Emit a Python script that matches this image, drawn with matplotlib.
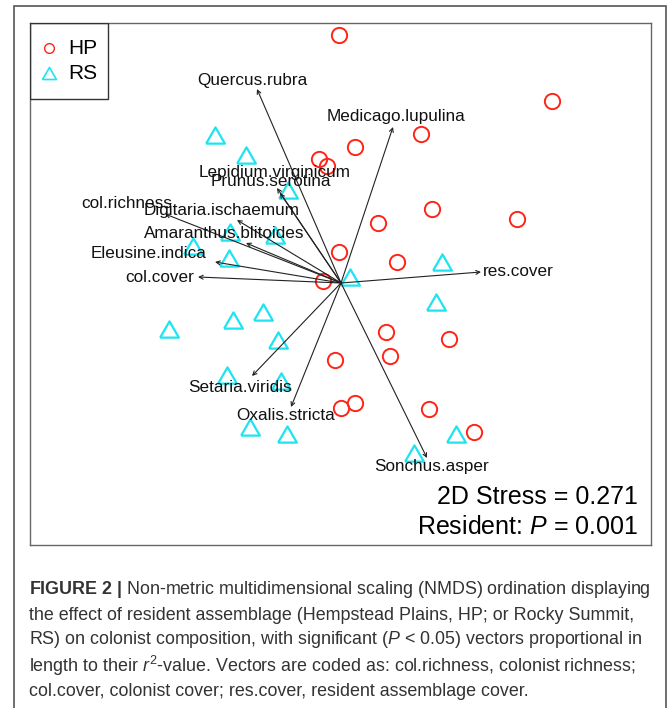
import numpy as np
import matplotlib
matplotlib.use('Agg')
import matplotlib.pyplot as plt
from matplotlib.patches import Rectangle
from matplotlib.path import Path

plt.rcParams['font.family'] = ['Liberation Sans', 'DejaVu Sans']
plt.rcParams['mathtext.fontset'] = 'custom'
plt.rcParams['mathtext.rm'] = 'Liberation Sans'
plt.rcParams['mathtext.it'] = 'Liberation Sans:italic'
plt.rcParams['mathtext.bf'] = 'Liberation Sans:bold'

# NMDS site scores, Hempstead Plains (HP)
hp_x = [-0.008, 0.844, 0.32, 0.056, -0.088, -0.056, 0.364, 0.704, 0.148, -0.008,
        0.224, -0.072, 0.18, 0.432, 0.196, -0.024, 0.056, 0.0, 0.352, 0.532]
hp_y = [0.992, 0.728, 0.596, 0.544, 0.496, 0.468, 0.296, 0.256, 0.24, 0.124,
        0.084, 0.008, -0.196, -0.224, -0.292, -0.308, -0.48, -0.5, -0.504, -0.596]

# NMDS site scores, Rocky Summit (RS)
rs_x = [-0.504, -0.38, -0.212, -0.444, -0.264, -0.592, -0.448, 0.404, 0.036, 0.38,
        -0.312, -0.432, -0.688, -0.252, -0.456, -0.24, -0.364, -0.216, 0.46, 0.292]
rs_y = [0.592, 0.512, 0.372, 0.204, 0.192, 0.148, 0.1, 0.084, 0.024, -0.076,
        -0.116, -0.148, -0.184, -0.228, -0.368, -0.392, -0.576, -0.604, -0.604, -0.68]

# envfit vectors (arrow tips) and where their labels sit
vec_names = ['Quercus.rubra', 'Medicago.lupulina', 'Lepidium.virginicum', 'Prunus.serotina',
             'col.richness', 'Digitaria.ischaemum', 'Amaranthus.blitoides', 'Eleusine.indica',
             'col.cover', 'res.cover', 'Setaria.viridis', 'Oxalis.stricta', 'Sonchus.asper']
vec_x = [-0.336, 0.208, -0.256, -0.244, -0.704, -0.416, -0.38, -0.504, -0.572, 0.56, -0.356, -0.2, 0.344]
vec_y = [0.776, 0.624, 0.38, 0.36, 0.276, 0.252, 0.16, 0.084, 0.024, 0.044, -0.372, -0.496, -0.7]
lab_x = [-0.356, 0.22, -0.264, -0.28, -0.856, -0.476, -0.468, -0.768, -0.724, 0.708, -0.404, -0.22, 0.364]
lab_y = [0.808, 0.664, 0.444, 0.404, 0.316, 0.288, 0.196, 0.12, 0.024, 0.048, -0.416, -0.532, -0.732]

groups = ['HP', 'RS']

caption = [
    r'$\mathbf{FIGURE\ 2\ |}$ Non-metric multidimensional scaling (NMDS) ordination displaying',
    'the effect of resident assemblage (Hempstead Plains, HP; or Rocky Summit,',
    r'RS) on colonist composition, with significant ($P$ < 0.05) vectors proportional in',
    r'length to their $r^2$-value. Vectors are coded as: col.richness, colonist richness;',
    'col.cover, colonist cover; res.cover, resident assemblage cover.',
]

W, H = 669, 708
fig = plt.figure(figsize=(W / 100, H / 100), dpi=100)
ax = fig.add_axes([30 / W, 1 - 545 / H, (651 - 30) / W, (545 - 23) / H])

tri = Path([(-1, -0.866), (1, -0.866), (0, 0.866), (-1, -0.866)])
red = '#ff2418'
cyan = '#1de4f0'

ax.plot(hp_x, hp_y, 'o', ls='none', ms=11, mfc='none', mec=red, mew=1.4)
ax.plot(rs_x, rs_y, marker=tri, ls='none', ms=13.5, mfc='none', mec=cyan, mew=1.6)

for name, tx, ty, lx, ly in zip(vec_names, vec_x, vec_y, lab_x, lab_y):
    ax.annotate('', xy=(tx, ty), xytext=(0, 0),
                arrowprops=dict(arrowstyle='->', lw=0.8, color='#222222',
                                shrinkA=0, shrinkB=0, mutation_scale=7))
    ax.text(lx, ly, name, ha='center', va='center', fontsize=12.3, color='#111111')

ax.set_xlim(-1.244, 1.24)
ax.set_ylim(-1.048, 1.04)
ax.set_xticks([])
ax.set_yticks([])
for s in ax.spines.values():
    s.set_color('#666666')
    s.set_linewidth(1.0)

ax.text(0.979, 0.092, '2D Stress = 0.271', transform=ax.transAxes,
        ha='right', va='center', fontsize=18)
ax.text(0.979, 0.0345, 'Resident: $P$ = 0.001', transform=ax.transAxes,
        ha='right', va='center', fontsize=18)

# legend box drawn by hand (R style, top-left corner)
ax.add_patch(Rectangle((0, 1 - 0.1456), 0.1256, 0.1456, transform=ax.transAxes,
                       fill=False, ec='#333333', lw=1.0, zorder=5))
ax.plot([0.0306], [0.952], 'o', transform=ax.transAxes, ms=7, mfc='none', mec=red, mew=1.0)
ax.plot([0.0306], [0.904], marker=tri, transform=ax.transAxes, ms=10, mfc='none', mec=cyan, mew=1.2)
for g, yy in zip(groups, [0.952, 0.904]):
    ax.text(0.0612, yy, g, transform=ax.transAxes, ha='left', va='center', fontsize=15)

# outer frame of the figure panel
fig.patches.append(Rectangle((14 / W, -0.1), (666 - 14) / W, (H - 6) / H + 0.1,
                             transform=fig.transFigure, fill=False,
                             ec='#555555', lw=1.2, clip_on=False))

line_y = [589, 615, 640, 666, 691]
for txt, yy in zip(caption, line_y):
    fig.text(29 / W, 1 - yy / H, txt, ha='left', va='center', fontsize=12.9, color='#333333')

fig.savefig('out.png', dpi=100)
